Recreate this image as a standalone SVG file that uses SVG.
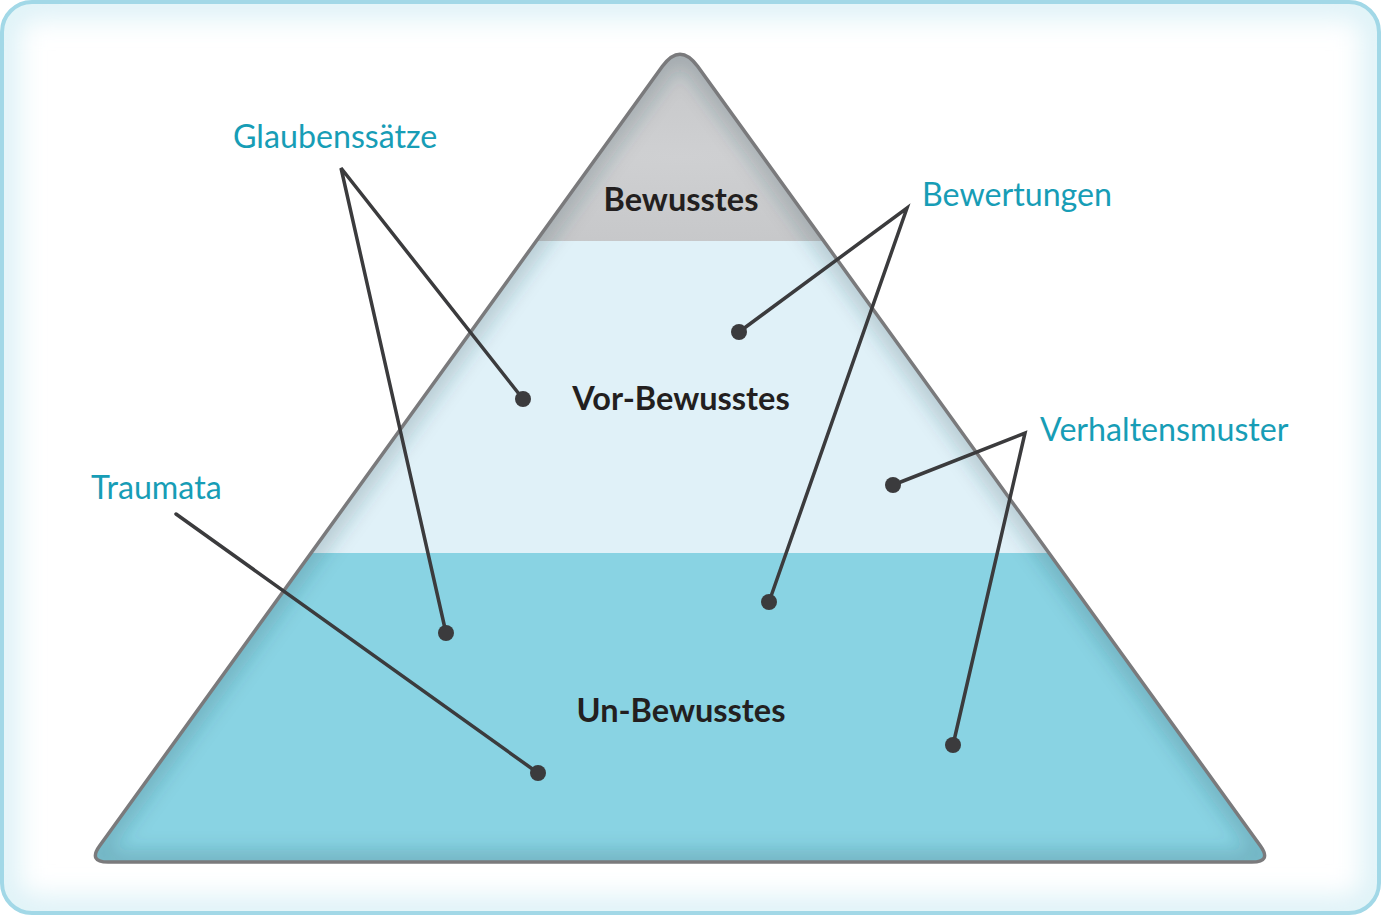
<svg xmlns="http://www.w3.org/2000/svg" width="1382" height="916" viewBox="0 0 1382 916">
  <style>
    .band-label { font-family: Lato, "Open Sans", sans-serif; font-weight: 700; font-size: 32.5px; fill: #231f20; text-anchor: middle; }
    .label { font-family: Lato, "Open Sans", sans-serif; font-weight: 400; font-size: 32.2px; fill: #179db6; }
    .conn { stroke: #3b3b3d; stroke-width: 3.5; fill: none; stroke-linecap: round; stroke-linejoin: miter; }
    .dot { fill: #3b3b3d; }
  </style>
  <defs>
    <clipPath id="frameClip">
      <rect x="2" y="2" width="1377" height="911" rx="30" ry="30"/>
    </clipPath>
    <clipPath id="triClip">
      <path d="M 662.4 66.3 Q 680 42 697.6 66.3 L 1260.3 845.8 Q 1272 862 1252 862 L 108 862 Q 88 862 99.7 845.8 Z"/>
    </clipPath>
    <filter id="blur20" x="-10%" y="-10%" width="120%" height="120%">
      <feGaussianBlur stdDeviation="14"/>
    </filter>
    <filter id="blur10" x="-10%" y="-10%" width="120%" height="120%">
      <feGaussianBlur stdDeviation="9"/>
    </filter>
    <radialGradient id="grayGrad" cx="0.5" cy="0.6" r="0.6">
      <stop offset="0" stop-color="#cfd0d2"/>
      <stop offset="1" stop-color="#c3c4c6"/>
    </radialGradient>
  </defs>

  <!-- frame -->
  <g id="frame">
    <rect x="2" y="2" width="1377" height="911" rx="30" ry="30" fill="#ffffff"/>
    <g clip-path="url(#frameClip)">
      <rect x="2" y="2" width="1377" height="911" rx="30" ry="30" fill="none" stroke="#d9f0f6" stroke-width="30" filter="url(#blur20)"/>
    </g>
    <rect x="2" y="2" width="1377" height="911" rx="30" ry="30" fill="none" stroke="#a2d8e7" stroke-width="4"/>
  </g>

  <!-- pyramid -->
  <g id="pyramid">
    <g clip-path="url(#triClip)">
      <rect x="80" y="30" width="1200" height="211" fill="url(#grayGrad)"/>
      <rect x="80" y="241" width="1200" height="312" fill="#e0f1f8"/>
      <rect x="80" y="553" width="1200" height="320" fill="#89d3e3"/>
      <path d="M 662.4 66.3 Q 680 42 697.6 66.3 L 1260.3 845.8 Q 1272 862 1252 862 L 108 862 Q 88 862 99.7 845.8 Z" fill="none" stroke="#2a4a55" stroke-opacity="0.22" stroke-width="24" filter="url(#blur10)"/>
    </g>
    <path d="M 662.4 66.3 Q 680 42 697.6 66.3 L 1260.3 845.8 Q 1272 862 1252 862 L 108 862 Q 88 862 99.7 845.8 Z" fill="none" stroke="#7a7a7c" stroke-width="3.5" stroke-linejoin="round"/>
  </g>

  <g id="bewusstes"><text class="band-label" x="681" y="211">Bewusstes</text></g>
  <g id="vor-bewusstes"><text class="band-label" x="681" y="410">Vor-Bewusstes</text></g>
  <g id="un-bewusstes"><text class="band-label" x="681" y="722">Un-Bewusstes</text></g>

  <g id="glaubenssaetze"><text class="label" x="233" y="148">Glaubenssätze</text></g>
  <g id="bewertungen"><text class="label" x="922" y="206">Bewertungen</text></g>
  <g id="verhaltensmuster"><text class="label" x="1040" y="441">Verhaltensmuster</text></g>
  <g id="traumata"><text class="label" x="91" y="499">Traumata</text></g>

  <!-- connectors -->
  <g id="connectors">
    <polyline class="conn" points="523,399 341,168 446,633"/>
    <polyline class="conn" points="739,332 907,208 769,602"/>
    <polyline class="conn" points="893,485 1025,433 953,745"/>
    <line class="conn" x1="176" y1="514" x2="538" y2="773"/>
    <circle class="dot" cx="523" cy="399" r="8"/>
    <circle class="dot" cx="446" cy="633" r="8"/>
    <circle class="dot" cx="739" cy="332" r="8"/>
    <circle class="dot" cx="769" cy="602" r="8"/>
    <circle class="dot" cx="893" cy="485" r="8"/>
    <circle class="dot" cx="953" cy="745" r="8"/>
    <circle class="dot" cx="538" cy="773" r="8"/>
  </g>
</svg>
